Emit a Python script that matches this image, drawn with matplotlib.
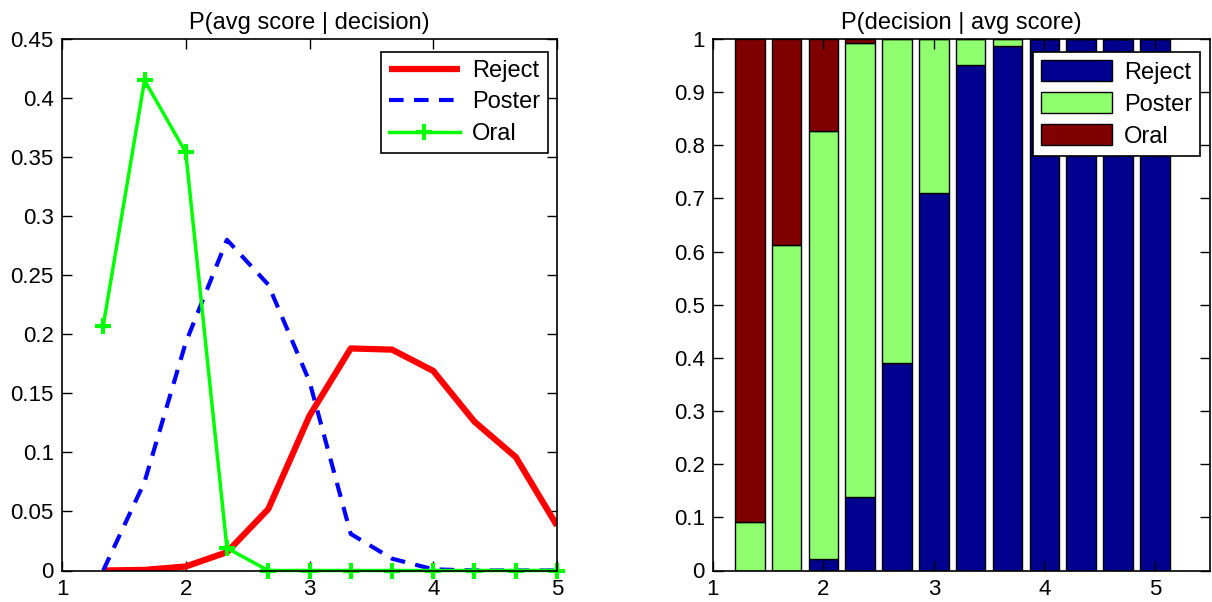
import numpy as np
import matplotlib
matplotlib.use("Agg")
import matplotlib.pyplot as plt

plt.rcParams["font.family"] = ["Liberation Sans", "DejaVu Sans"]
plt.rcParams["font.size"] = 16

# bin centres of the average score
scores = [1.333, 1.667, 2.0, 2.333, 2.667, 3.0, 3.333, 3.667, 4.0, 4.333, 4.667, 5.0]

# P(avg score | decision)
p_reject = [0.0, 0.0005, 0.0034, 0.0155, 0.052, 0.131, 0.188, 0.187, 0.169, 0.126, 0.096, 0.038]
p_poster = [0.0, 0.075, 0.193, 0.280, 0.242, 0.160, 0.031, 0.010, 0.001, 0.0, 0.0, 0.0]
p_oral = [0.207, 0.415, 0.354, 0.019, 0.0, 0.0, 0.0, 0.0, 0.0, 0.0, 0.0, 0.0]

# P(decision | avg score), stacked
post_reject = [0.0, 0.0, 0.022, 0.138, 0.390, 0.711, 0.951, 0.987, 1.0, 1.0, 1.0, 1.0]
post_poster = [0.091, 0.613, 0.805, 0.855, 0.610, 0.289, 0.049, 0.013, 0.0, 0.0, 0.0, 0.0]
post_oral = [0.909, 0.387, 0.173, 0.007, 0.0, 0.0, 0.0, 0.0, 0.0, 0.0, 0.0, 0.0]

decisions = ["Reject", "Poster", "Oral"]

fig = plt.figure(figsize=(12.12, 6.02), dpi=100)
ax1 = fig.add_axes([62 / 1212, 31.5 / 602, 495 / 1212, 531.5 / 602])
ax2 = fig.add_axes([713 / 1212, 31.5 / 602, 497 / 1212, 531.5 / 602])


def matlab_axes(ax):
    ax.tick_params(direction="in", top=True, right=True, length=7, width=1, pad=6)
    for sp in ax.spines.values():
        sp.set_linewidth(1.2)


# left: class-conditional densities
ax1.plot(scores, p_reject, color="red", lw=4.5, label=decisions[0], solid_capstyle="butt")
ax1.plot(scores, p_poster, color="blue", lw=3, ls=(0, (3.5, 2.5)), label=decisions[1])
ax1.plot(scores, p_oral, color="#00ff00", lw=2.5, marker="+", ms=11, mew=3,
         label=decisions[2], clip_on=False)
ax1.set_xlim(1, 5)
ax1.set_ylim(0, 0.45)
ax1.set_xticks([1, 2, 3, 4, 5])
ax1.set_yticks(np.arange(0, 0.451, 0.05))
ax1.set_yticklabels(["0", "0.05", "0.1", "0.15", "0.2", "0.25", "0.3", "0.35", "0.4", "0.45"])
ax1.set_title("P(avg score | decision)", fontsize=17, pad=7)
matlab_axes(ax1)
leg1 = ax1.legend(loc="upper right", bbox_to_anchor=(0.982, 0.976), borderaxespad=0,
                  fancybox=False, framealpha=1, edgecolor="black", handlelength=3.0,
                  fontsize=17, labelspacing=0.4, borderpad=0.35, handletextpad=0.5)
leg1.get_frame().set_linewidth(1.2)

# right: posterior over decisions, stacked bars
c_reject = (0, 0, 0.5625)
c_poster = (0.5625, 1, 0.4375)
c_oral = (0.5, 0, 0)
bw = 0.8 * (scores[1] - scores[0])
bot2 = np.array(post_reject) + np.array(post_poster)
ax2.bar(scores, post_reject, width=bw, color=c_reject, edgecolor="black", lw=1, label=decisions[0])
ax2.bar(scores, post_poster, width=bw, bottom=post_reject, color=c_poster, edgecolor="black",
        lw=1, label=decisions[1])
ax2.bar(scores, post_oral, width=bw, bottom=bot2, color=c_oral, edgecolor="black", lw=1,
        label=decisions[2])
ax2.set_xlim(1, 5.5)
ax2.set_ylim(0, 1)
ax2.set_xticks([1, 2, 3, 4, 5])
ax2.set_yticks(np.arange(0, 1.01, 0.1))
ax2.set_yticklabels(["0", "0.1", "0.2", "0.3", "0.4", "0.5", "0.6", "0.7", "0.8", "0.9", "1"])
ax2.set_title("P(decision | avg score)", fontsize=17, pad=7)
matlab_axes(ax2)
leg2 = ax2.legend(loc="upper right", bbox_to_anchor=(0.98, 0.976), borderaxespad=0,
                  fancybox=False, framealpha=1, edgecolor="black", handlelength=3.0,
                  handleheight=1.0, fontsize=17, labelspacing=0.35, borderpad=0.35,
                  handletextpad=0.5)
leg2.get_frame().set_linewidth(1.2)

fig.savefig("out.png", dpi=100)
